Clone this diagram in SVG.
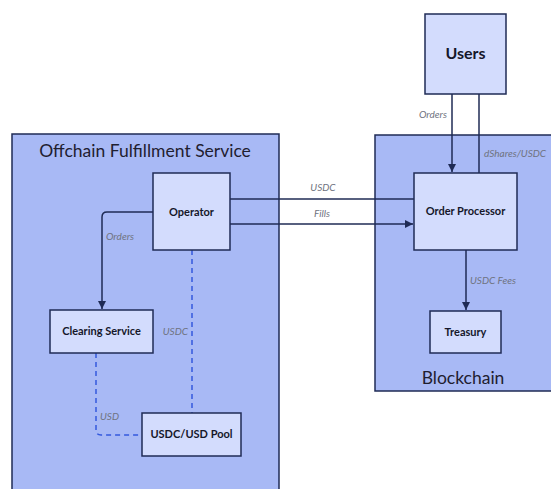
<svg xmlns="http://www.w3.org/2000/svg" width="551" height="489" viewBox="0 0 551 489">
<defs>
<style>
.cluster{fill:#a8b9f5;stroke:#1f2b55;stroke-width:1.5}
.node{fill:#d3dcfd;stroke:#1f2b55;stroke-width:1.5}
.ct{font-family:Lato,"Noto Sans",sans-serif;font-size:17.5px;fill:#1f2030}
.nt{font-family:Lato,"Noto Sans",sans-serif;font-size:11px;font-weight:bold;fill:#15172a;text-anchor:middle}
.el{font-family:Lato,"Noto Sans",sans-serif;font-size:10px;font-style:italic;fill:#6f7380}
.e{fill:none;stroke:#1f2b55;stroke-width:1.5}
.d{fill:none;stroke:#3358dd;stroke-width:1.5;stroke-dasharray:5,4}
</style>
<marker id="ah" viewBox="0 0 10 10" refX="10" refY="5" markerWidth="8" markerHeight="8" markerUnits="userSpaceOnUse" orient="auto">
<path d="M0,0 L10,5 L0,10 z" fill="#1f2b55"/>
</marker>
</defs>
<rect width="551" height="489" fill="#ffffff"/>
<g id="cluster-offchain">
<rect class="cluster" x="12" y="134" width="267" height="370"/>
<text class="ct" x="145" y="157" text-anchor="middle">Offchain Fulfillment Service</text>
</g>
<g id="cluster-blockchain">
<rect class="cluster" x="375" y="135" width="190" height="256"/>
<text class="ct" x="463" y="384" text-anchor="middle">Blockchain</text>
</g>
<g id="connectors">
<path class="e" d="M452,94 V172" marker-end="url(#ah)"/>
<text class="el" x="447" y="118" text-anchor="end">Orders</text>
<path class="e" d="M479,173 V94"/>
<text class="el" x="484" y="157">dShares/USDC</text>
<path class="e" d="M230,199 H414"/>
<text class="el" x="323" y="191" text-anchor="middle">USDC</text>
<path class="e" d="M230,224 H413" marker-end="url(#ah)"/>
<text class="el" x="322" y="217" text-anchor="middle">Fills</text>
<path class="e" d="M153,212 H107 Q102,212 102,217 V309" marker-end="url(#ah)"/>
<text class="el" x="106" y="240">Orders</text>
<path class="d" d="M192,250 V413"/>
<text class="el" x="188" y="335" text-anchor="end">USDC</text>
<path class="d" d="M96,353 V430 Q96,435 101,435 H142"/>
<text class="el" x="100" y="420">USD</text>
<path class="e" d="M466,250 V310" marker-end="url(#ah)"/>
<text class="el" x="470" y="284">USDC Fees</text>
</g>
<g id="node-users">
<rect class="node" x="425" y="14" width="81" height="80"/>
<text class="nt" x="465.5" y="59" style="font-size:16px">Users</text>
</g>
<g id="node-order-processor">
<rect class="node" x="414" y="173" width="103" height="77"/>
<text class="nt" x="465.5" y="215">Order Processor</text>
</g>
<g id="node-treasury">
<rect class="node" x="430" y="311" width="71" height="42"/>
<text class="nt" x="465.5" y="336">Treasury</text>
</g>
<g id="node-operator">
<rect class="node" x="153" y="173" width="77" height="77"/>
<text class="nt" x="191.5" y="216">Operator</text>
</g>
<g id="node-clearing">
<rect class="node" x="50" y="310" width="103" height="43"/>
<text class="nt" x="101.5" y="335">Clearing Service</text>
</g>
<g id="node-pool">
<rect class="node" x="142" y="413" width="99" height="43"/>
<text class="nt" x="191.5" y="438">USDC/USD Pool</text>
</g>
</svg>
